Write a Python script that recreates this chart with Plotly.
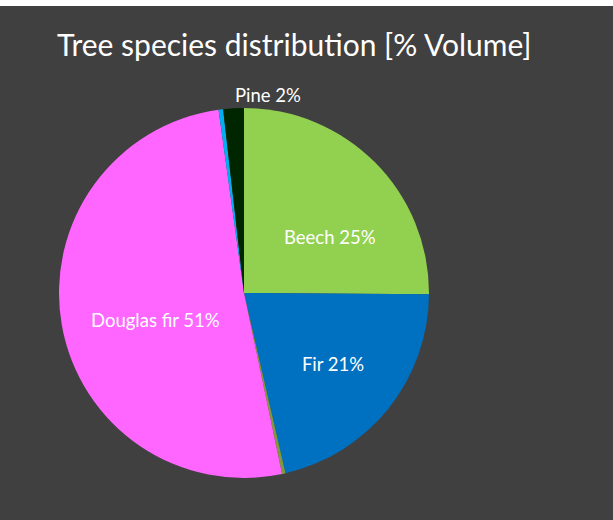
import plotly.graph_objects as go

W, H = 613, 520

species = ["Beech", "Fir", "Other", "Douglas fir", "Larch", "Pine"]
volume_pct = [25.1, 21.3, 0.3, 51.1, 0.4, 1.8]
colors = ["#92D050", "#0070C0", "#7F9A3C", "#FF66FF", "#00B0F0", "#002600"]
label_pos = ["none", "inside", "none", "none", "none", "none"]

texts = [f"{s} {round(v)}%" for s, v in zip(species, volume_pct)]

FONT = "Lato, Open Sans, sans-serif"
LABEL_SIZE = 18.5
cx, cy, r = 244, 293, 185

fig = go.Figure(go.Pie(
    labels=species,
    values=volume_pct,
    text=texts,
    textinfo="text",
    textposition=label_pos,
    insidetextorientation="horizontal",
    sort=False,
    direction="clockwise",
    rotation=0,
    marker=dict(colors=colors, line=dict(width=0)),
    textfont=dict(color="white", size=LABEL_SIZE, family=FONT),
    domain=dict(x=[(cx - r) / W, (cx + r) / W], y=[(H - cy - r) / H, (H - cy + r) / H]),
    showlegend=False,
    hoverinfo="label+percent",
))

# label anchor points (pixels) for labels placed as annotations
label_xy = {0: (330, 237), 3: (155, 320), 5: (268, 95)}
annotations = [
    dict(text=texts[i], x=px / W, y=1 - py / H, xref="paper", yref="paper",
         xanchor="center", yanchor="middle", showarrow=False,
         font=dict(color="white", size=LABEL_SIZE, family=FONT))
    for i, (px, py) in label_xy.items()
]

fig.update_layout(
    width=W, height=H, autosize=False,
    margin=dict(l=0, r=0, t=0, b=0),
    paper_bgcolor="#404040",
    plot_bgcolor="#404040",
    title=dict(
        text="Tree species distribution [% Volume]",
        x=57 / W, xanchor="left", xref="paper",
        y=1 - 45 / H, yanchor="middle", yref="container",
        font=dict(color="white", size=30, family=FONT),
    ),
    shapes=[dict(type="rect", xref="paper", yref="paper", x0=0, x1=1,
                 y0=1 - 6 / H, y1=1, fillcolor="white", line=dict(width=0), layer="above")],
    annotations=annotations,
)

fig.write_html("out.html", config={"displayModeBar": False},
               post_script="document.body.style.margin='0';")
